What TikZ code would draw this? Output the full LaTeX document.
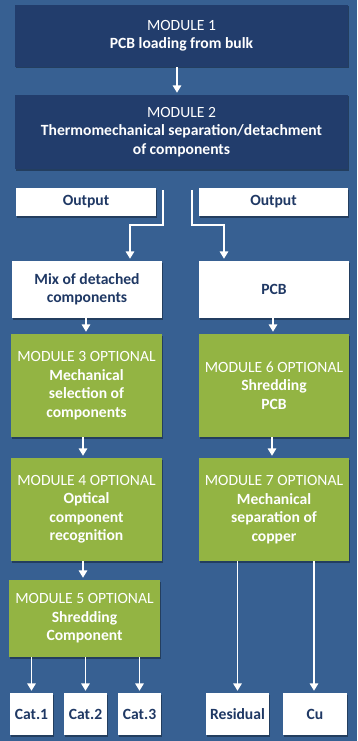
\documentclass[tikz,border=0pt]{standalone}
\usepackage{fontspec}
\setmainfont{Carlito}
\usepackage{xcolor}
\usepackage{tikz}
\usetikzlibrary{arrows.meta,positioning,shadows}
\definecolor{panelbg}{HTML}{376092}
\definecolor{navy}{HTML}{223D6C}
\definecolor{olive}{HTML}{93B443}
\definecolor{inkblue}{HTML}{1F3864}
\tikzset{
  flow diagram/.style={
    font=\fontsize{15.6}{18.5}\selectfont,
    line cap=butt,
    line join=miter
  },
  modbox/.style={
    draw=none,
    align=center,
    inner sep=2pt,
    text=white,
    drop shadow={shadow xshift=1pt,shadow yshift=-1.5pt,opacity=0.35,fill=black}
  },
  navybox/.style={
    modbox,
    fill=navy
  },
  greenbox/.style={
    modbox,
    fill=olive
  },
  whitebox/.style={
    modbox,
    fill=white,
    text=inkblue,
    font=\fontsize{15.6}{18.5}\selectfont\bfseries
  },
  flowarrow/.style={
    -{Triangle[width=8.5pt,length=7.5pt]},
    draw=white,
    line width=1.6pt,
    shorten >=2pt
  }
}

\begin{document}
\begin{tikzpicture}[flow diagram, x=1pt, y=-1pt]
\fill[panelbg] (0,0) rectangle (357,741);
\useasboundingbox (0,0) rectangle (357,741);

\node[navybox, minimum width=333pt, minimum height=62pt] (m1) at (181.5,36) {MODULE 1\\\textbf{PCB loading from bulk}};
\node[navybox, minimum width=333pt, minimum height=74pt] (m2) at (181.5,132) {MODULE 2\\\textbf{Thermomechanical separation/detachment}\\\textbf{of components}};
\node[whitebox, minimum width=140pt, minimum height=28pt] (outL) at (86,202) {Output};
\node[whitebox, minimum width=149pt, minimum height=28pt] (outR) at (273.5,202) {Output};
\node[whitebox, minimum width=150pt, minimum height=57pt] (mix) at (87,289.5) {Mix of detached\\components};
\node[whitebox, minimum width=150pt, minimum height=57pt] (pcb) at (274,289.5) {PCB};
\node[greenbox, minimum width=151pt, minimum height=103pt] (m3) at (86.5,385.5) {MODULE 3 OPTIONAL\\\textbf{Mechanical}\\\textbf{selection of}\\\textbf{components}};
\node[greenbox, minimum width=150pt, minimum height=103pt] (m6) at (274,385.5) {MODULE 6 OPTIONAL\\\textbf{Shredding}\\\textbf{PCB}};
\node[greenbox, minimum width=151pt, minimum height=103pt] (m4) at (86.5,509.5) {MODULE 4 OPTIONAL\\\textbf{Optical}\\\textbf{component}\\\textbf{recognition}};
\node[greenbox, minimum width=150pt, minimum height=103pt] (m7) at (274,509.5) {MODULE 7 OPTIONAL\\\textbf{Mechanical}\\\textbf{separation of}\\\textbf{copper}};
\node[greenbox, minimum width=151pt, minimum height=77pt] (m5) at (84.5,618.5) {MODULE 5 OPTIONAL\\\textbf{Shredding}\\\textbf{Component}};
\node[whitebox, minimum width=43pt, minimum height=42pt] (cat1) at (31.5,714) {Cat.1};
\node[whitebox, minimum width=43pt, minimum height=42pt] (cat2) at (85.5,714) {Cat.2};
\node[whitebox, minimum width=43pt, minimum height=42pt] (cat3) at (139.5,714) {Cat.3};
\node[whitebox, minimum width=63pt, minimum height=42pt] (res) at (237.5,714) {Residual};
\node[whitebox, minimum width=64pt, minimum height=42pt] (cu) at (315,714) {Cu};

\draw[flowarrow] ([xshift=-4.5pt]m1.south) -- ([xshift=-4.5pt]m2.north);
\draw[flowarrow] ([xshift=7pt,yshift=-2pt]outL.north east) -- ++(0,35) -| ([xshift=43pt]mix.north);
\draw[flowarrow] ([xshift=-7pt,yshift=-2pt]outR.north west) -- ++(0,35) -| ([xshift=-50pt]pcb.north);
\draw[flowarrow] ([xshift=-1pt]mix.south) -- ([xshift=-1pt]mix.south |- m3.north);
\draw[flowarrow] ([xshift=-1pt]pcb.south) -- ([xshift=-1pt]pcb.south |- m6.north);
\draw[flowarrow] ([xshift=-3.5pt]m3.south) -- ([xshift=-3.5pt]m3.south |- m4.north);
\draw[flowarrow] ([xshift=-2pt]m6.south) -- ([xshift=-2pt]m6.south |- m7.north);
\draw[flowarrow] ([xshift=-3.5pt]m4.south) -- ([xshift=-3.5pt]m4.south |- m5.north);
\draw[flowarrow] (m5.south -| cat1) -- (cat1);
\draw[flowarrow] (m5.south -| cat2) -- (cat2);
\draw[flowarrow] (m5.south -| cat3) -- (cat3);
\draw[flowarrow] (m7.south -| res) -- (res);
\draw[flowarrow] ([xshift=-1pt]m7.south -| cu) -- ([xshift=-1pt]cu.north);
\end{tikzpicture}
\end{document}
